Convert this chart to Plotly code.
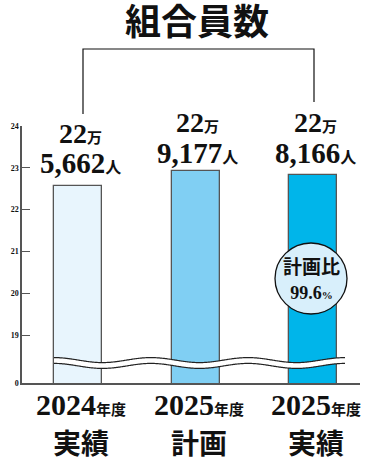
import numpy as np
import plotly.graph_objects as go

# --- data -------------------------------------------------------------
years = ["2024", "2025", "2025"]
kinds = ["実績", "計画", "実績"]
members = [225662, 229177, 228166]          # 組合員数（人）
bar_colors = ["#E8F5FD", "#80CFF3", "#00B5EA"]
plan_ratio = "99.6"                          # 計画比（%）
ytick_vals = [19, 20, 21, 22, 23, 24]

# --- geometry ---------------------------------------------------------
W, H = 385, 462
ML, MR, MT, MB = 22, 25, 126, 79
PW, PH = W - ML - MR, H - MT - MB
XR = [-0.48, 2.40]
UNIT_PX = 41.8                               # pixels per 1万人
YTOP = 24
YBOT = YTOP - PH / UNIT_PX                   # broken-axis floor, labelled "0"

SERIF = "Liberation Serif, Noto Sans CJK JP, serif"


def xd(px):
    return XR[0] + (px - ML) / PW * (XR[1] - XR[0])


def yd(py):
    return YTOP - (py - MT) / UNIT_PX


def xp(px):
    return (px - ML) / PW


def yp(py):
    return 1 - (py - MT) / PH


def xp_of(i):
    return (i - XR[0]) / (XR[1] - XR[0])


def label(x, y, text, size):
    return dict(x=x, y=y, xref="paper", yref="paper", showarrow=False,
                xanchor="center", yanchor="middle", text=text,
                font=dict(family=SERIF, size=size, color="#111"))


man = [v / 10000 for v in members]
xs = list(range(len(members)))

fig = go.Figure()
fig.add_trace(go.Bar(
    x=xs, y=man, width=0.41,
    marker=dict(color=bar_colors, line=dict(color="#555555", width=1.3)),
    hoverinfo="skip", showlegend=False,
))

# wavy break line across the bars
wx = np.linspace(54, 345, 300)
wy = 363 - 2.5 * np.cos(2 * np.pi * (wx - 54) / 97)
for col, lw in (("#222222", 7), ("#FFFFFF", 4.6)):
    fig.add_trace(go.Scatter(
        x=[xd(p) for p in wx], y=[yd(p) for p in wy], mode="lines",
        line=dict(color=col, width=lw, simplify=False), hoverinfo="skip",
        showlegend=False, cliponaxis=False,
    ))

ann = []

# value labels above the bars
label_px = [(133, 163), (122, 153), (122, 153)]
for i, v in enumerate(members):
    top, rest = divmod(v, 10000)
    l1, l2 = label_px[i]
    ann.append(label(xp_of(i) + xp(24) - xp(22), yp(l1),
                     f"<b>{top}<span style='font-size:15px'>万</span></b>", 28))
    ann.append(label(xp_of(i) + xp(24) - xp(22), yp(l2),
                     f"<b>{rest // 1000},{rest % 1000:03d}"
                     f"<span style='font-size:16px'>人</span></b>", 29))

# category labels under the axis
for i, (yr, kd) in enumerate(zip(years, kinds)):
    ann.append(label(xp_of(i) + xp(25) - xp(22), yp(424),
                     f"<b>{yr}<span style='font-size:15px'>年度</span><br>"
                     f"<span style='font-size:28px'>{kd}</span></b>", 30))

# title
ann.append(label(xp(197), yp(23), "<b>組合員数</b>", 36))

# plan-ratio badge
ann.append(label(xp(311), yp(279),
                 f"<b>計画比<br><span style='font-size:18px'>{plan_ratio}"
                 f"<span style='font-size:11px'>%</span></span></b>", 19))

shapes = [
    # bracket linking the first and last results
    dict(type="path", xref="paper", yref="paper",
         path=(f"M {xp(83)},{yp(114)} L {xp(83)},{yp(49)} "
               f"L {xp(314)},{yp(49)} L {xp(314)},{yp(102)}"),
         line=dict(color="#111", width=1.2)),
    dict(type="circle", xref="paper", yref="paper",
         x0=xp(275), x1=xp(347), y0=yp(243), y1=yp(314),
         fillcolor="#D8EFFB", line=dict(color="#111", width=1.3)),
]

fig.update_layout(
    width=W, height=H,
    margin=dict(l=ML, r=MR, t=MT, b=MB),
    paper_bgcolor="white", plot_bgcolor="white",
    annotations=ann, shapes=shapes, bargap=0,
    xaxis=dict(range=XR, showgrid=False, zeroline=False, showticklabels=False,
               showline=True, linecolor="#555", linewidth=1.5, fixedrange=True),
    yaxis=dict(range=[YBOT, YTOP], showgrid=False, zeroline=False,
               showline=True, linecolor="#555", linewidth=1.5,
               tickvals=[YBOT] + ytick_vals,
               ticktext=["0"] + [str(t) for t in ytick_vals],
               ticks="inside", ticklen=8, tickcolor="#555", tickwidth=1.3,
               tickfont=dict(family="Liberation Serif", size=8, color="#111",
                             weight="bold"),
               fixedrange=True),
)

fig.write_html("out.html")
